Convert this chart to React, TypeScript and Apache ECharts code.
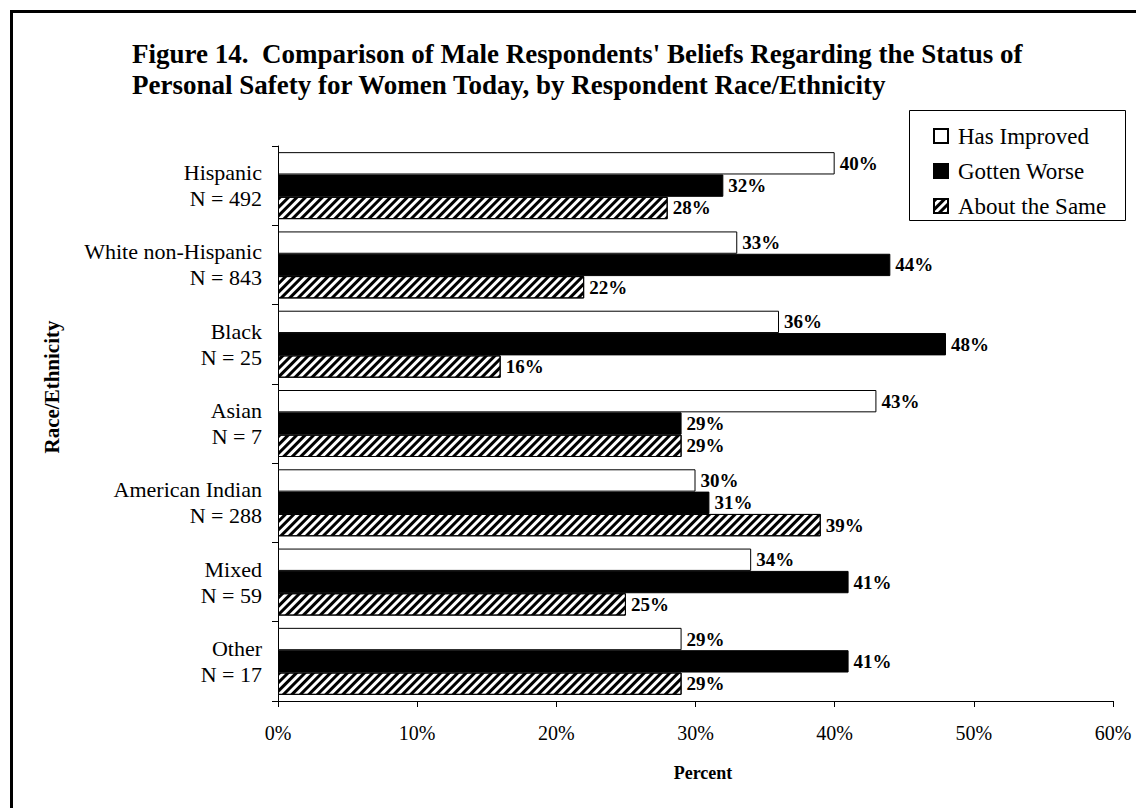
import React, { useEffect, useRef } from "react";
import * as echarts from "echarts";

const FONT = '"Liberation Serif", "Times New Roman", Times, serif';

const titleLines = [
  "Figure 14.  Comparison of Male Respondents' Beliefs Regarding the Status of",
  "Personal Safety for Women Today, by Respondent Race/Ethnicity",
];
const categories = [
  "Hispanic\nN = 492",
  "White non-Hispanic\nN = 843",
  "Black\nN = 25",
  "Asian\nN = 7",
  "American Indian\nN = 288",
  "Mixed\nN = 59",
  "Other\nN = 17",
];
const seriesNames = ["Has Improved", "Gotten Worse", "About the Same"];
const hasImproved = [40, 33, 36, 43, 30, 34, 29];
const gottenWorse = [32, 44, 48, 29, 31, 41, 41];
const aboutSame = [28, 22, 16, 29, 39, 25, 29];
const xMin = 0;
const xMax = 60;
const xStep = 10;
const xName = "Percent";
const yName = "Race/Ethnicity";

export default function App() {
  const ref = useRef<HTMLDivElement>(null);
  useEffect(() => {
    if (!ref.current) return;
    const chart = echarts.init(ref.current, null, { renderer: "svg" });
    const labelCfg = {
      show: true,
      position: "right",
      distance: 5,
      formatter: "{c}%",
      color: "#000",
      fontFamily: FONT,
      fontWeight: "bold",
      fontSize: 19,
    };
    chart.setOption({
      animation: false,
      backgroundColor: "#fff",
      grid: { left: 278, right: 23, top: 146, bottom: 107, containLabel: false },
      legend: {
        orient: "vertical",
        left: 928,
        top: 119,
        itemWidth: 14,
        itemHeight: 14,
        itemGap: 11,
        icon: "rect",
        data: seriesNames,
        textStyle: {
          fontFamily: FONT,
          fontSize: 23,
          color: "#000",
          lineHeight: 24,
          padding: [0, 0, 0, 5],
        },
      },
      xAxis: {
        type: "value",
        min: xMin,
        max: xMax,
        interval: xStep,
        splitLine: { show: false },
        axisLine: { show: true, lineStyle: { color: "#000", width: 1 } },
        axisTick: { show: true, length: 6, lineStyle: { color: "#000" } },
        axisLabel: {
          formatter: "{value}%",
          fontFamily: FONT,
          fontSize: 20,
          color: "#000",
          margin: 22,
        },
      },
      yAxis: {
        type: "category",
        inverse: true,
        data: categories,
        axisLine: { show: true, lineStyle: { color: "#000", width: 1 } },
        axisTick: { show: true, length: 6, alignWithLabel: false, lineStyle: { color: "#000" } },
        axisLabel: {
          fontFamily: FONT,
          fontSize: 22,
          lineHeight: 26,
          color: "#000",
          align: "right",
          margin: 16,
        },
      },
      graphic: [
        {
          type: "rect",
          z: -10,
          silent: true,
          shape: { x: 11.5, y: 11.5, width: 1200, height: 900 },
          style: { fill: "none", stroke: "#000", lineWidth: 3 },
        },
        {
          type: "rect",
          z: -5,
          silent: true,
          shape: { x: 909.5, y: 110.5, width: 216, height: 110 },
          style: { fill: "#fff", stroke: "#000", lineWidth: 1 },
        },
        {
          type: "text",
          x: 132,
          y: 53.5,
          style: {
            text: titleLines[0],
            font: `bold 27px ${FONT}`,
            fill: "#000",
            textVerticalAlign: "middle",
          },
        },
        {
          type: "text",
          x: 132,
          y: 85,
          style: {
            text: titleLines[1],
            font: `bold 27px ${FONT}`,
            fill: "#000",
            textVerticalAlign: "middle",
          },
        },
        {
          type: "text",
          x: 703,
          y: 773,
          style: {
            text: xName,
            font: `bold 18px ${FONT}`,
            fill: "#000",
            textAlign: "center",
            textVerticalAlign: "middle",
          },
        },
        {
          type: "text",
          x: 52,
          y: 387,
          rotation: Math.PI / 2,
          style: {
            text: yName,
            font: `bold 21px ${FONT}`,
            fill: "#000",
            textAlign: "center",
            textVerticalAlign: "middle",
          },
        },
      ],
      series: [
        {
          name: seriesNames[0],
          type: "bar",
          data: hasImproved,
          barGap: "0%",
          barCategoryGap: "15.5%",
          itemStyle: { color: "#fff", borderColor: "#000", borderWidth: 1 },
          label: labelCfg,
        },
        {
          name: seriesNames[1],
          type: "bar",
          data: gottenWorse,
          barGap: "0%",
          barCategoryGap: "15.5%",
          itemStyle: { color: "#000", borderColor: "#000", borderWidth: 1 },
          label: labelCfg,
        },
        {
          name: seriesNames[2],
          type: "bar",
          data: aboutSame,
          barGap: "0%",
          barCategoryGap: "15.5%",
          itemStyle: {
            color: "#fff",
            borderColor: "#000",
            borderWidth: 1,
            decal: {
              symbol: "rect",
              symbolSize: 1,
              color: "#000",
              backgroundColor: "#fff",
              dashArrayX: [1, 0],
              dashArrayY: [3, 3],
              rotation: -Math.PI / 4,
            },
          },
          label: labelCfg,
        },
      ],
    });
    return () => chart.dispose();
  }, []);
  return (
    <div
      ref={ref}
      style={{ position: "absolute", left: 0, top: 0, width: 1136, height: 808, background: "#fff" }}
    />
  );
}
